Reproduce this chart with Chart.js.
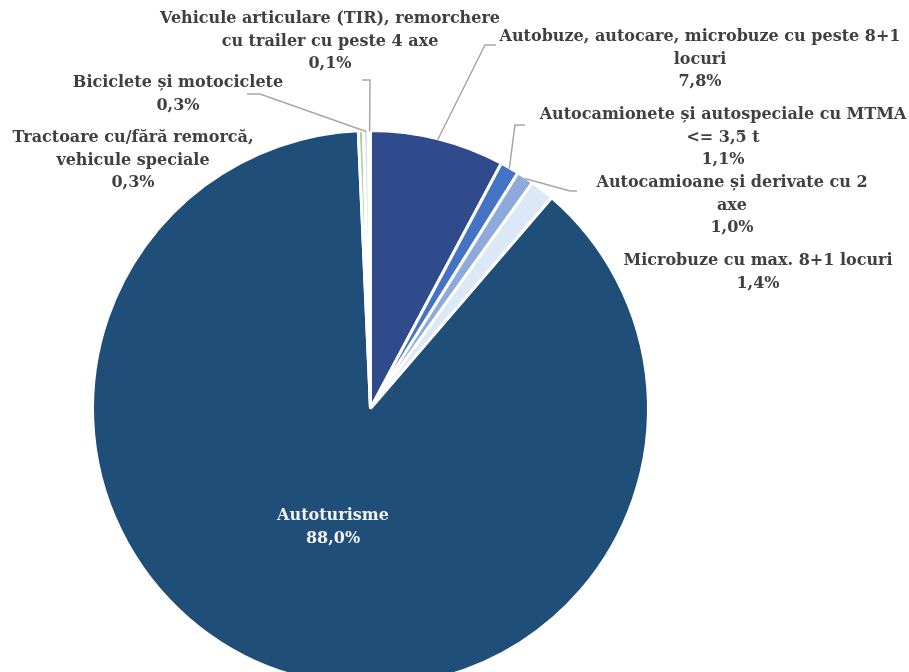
<!DOCTYPE html>
<html>
<head>
<meta charset="utf-8">
<script src="https://cdn.jsdelivr.net/npm/chart.js@4.4.0/dist/chart.umd.min.js"></script>
<style>
  html, body { margin: 0; padding: 0; overflow: hidden; background: #fff; }
  #wrap { width: 909px; height: 700px; }
</style>
</head>
<body>
<div id="wrap"><canvas id="myChart" width="909" height="700"></canvas></div>
<script>
// categories, clockwise from 12 o'clock
var labels = [
    ['Autobuze, autocare, microbuze cu peste 8+1', 'locuri'],
    ['Autocamionete și autospeciale cu MTMA', '<= 3,5 t'],
    ['Autocamioane și derivate cu 2', 'axe'],
    ['Microbuze cu max. 8+1 locuri'],
    ['Autoturisme'],
    ['Tractoare cu/fără remorcă,', 'vehicule speciale'],
    ['Biciclete și motociclete'],
    ['Vehicule articulare (TIR), remorchere', 'cu trailer cu peste 4 axe']
];
var shares = [7.8, 1.1, 1.0, 1.4, 88.0, 0.3, 0.3, 0.1];
var colors = ['#2f4b8b', '#4472c4', '#8eaadb', '#dce8f6', '#1f4e79', '#a9d18e', '#d9e2f0', '#5b9bd5'];

// where each label sits (center x, first line y) and its leader line (elbow, end)
var labelPos = [
    { x: 700, y: 37, elbow: [485, 45], end: [496, 45] },
    { x: 723, y: 115, elbow: [515, 125], end: [525, 125] },
    { x: 732, y: 183, elbow: [570, 191], end: [577, 191] },
    { x: 758, y: 261 },
    { x: 333, y: 516, color: '#f2f2f2' },
    { x: 133, y: 138 },
    { x: 178, y: 83, elbow: [260, 94], end: [247, 94] },
    { x: 330, y: 19, elbow: [370, 80], end: [362, 80] }
];

var pieLabels = {
    id: 'pieLabels',
    afterDatasetsDraw: function (chart) {
        var ctx = chart.ctx;
        var arcs = chart.getDatasetMeta(0).data;
        ctx.save();
        // leader lines
        ctx.strokeStyle = '#a6a6a6';
        ctx.lineWidth = 1.5;
        for (var i = 0; i < arcs.length; i++) {
            var p = labelPos[i];
            if (!p.elbow) continue;
            var a = arcs[i];
            var mid = (a.startAngle + a.endAngle) / 2;
            var r = a.outerRadius - 1;
            ctx.beginPath();
            ctx.moveTo(a.x + Math.cos(mid) * r, a.y + Math.sin(mid) * r);
            ctx.lineTo(p.elbow[0], p.elbow[1]);
            ctx.lineTo(p.end[0], p.end[1]);
            ctx.stroke();
        }
        // texts
        ctx.font = 'bold 16px "DejaVu Serif"';
        ctx.textAlign = 'center';
        ctx.textBaseline = 'middle';
        for (var j = 0; j < labels.length; j++) {
            var q = labelPos[j];
            var lines = labels[j].concat([shares[j].toFixed(1).replace('.', ',') + '%']);
            ctx.fillStyle = q.color || '#404040';
            for (var k = 0; k < lines.length; k++) {
                ctx.fillText(lines[k], q.x, q.y + k * 22.5);
            }
        }
        ctx.restore();
    }
};

var ctx = document.getElementById('myChart').getContext('2d');
var chart = new Chart(ctx, {
    type: 'pie',
    data: {
        labels: labels,
        datasets: [{
            data: shares,
            backgroundColor: colors,
            borderColor: '#ffffff',
            borderWidth: 3
        }]
    },
    options: {
        responsive: false,
        animation: false,
        events: [],
        layout: { padding: { left: 91, right: 259, top: 129, bottom: 12 } },
        plugins: {
            legend: { display: false },
            tooltip: { enabled: false }
        }
    },
    plugins: [pieLabels]
});
</script>
</body>
</html>
